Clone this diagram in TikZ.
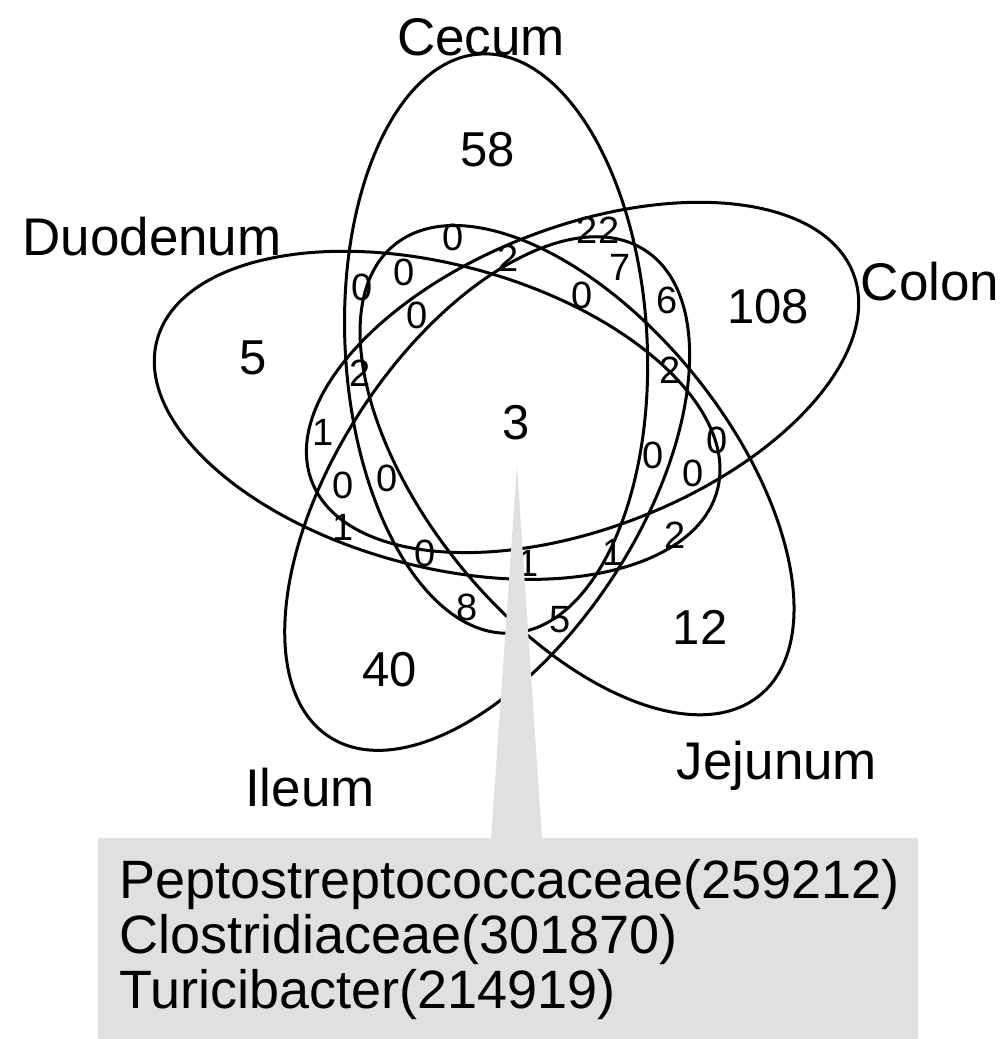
\documentclass[tikz,border=0pt]{standalone}
\usepackage{fontspec}
\setmainfont{Liberation Sans}
\definecolor{boxgray}{RGB}{224,224,224}
\begin{document}
\begin{tikzpicture}[x=1pt,y=1pt,
  venn/.style={line width=3pt},
  lab/.style={font=\fontsize{53}{60}\selectfont, anchor=base, inner sep=0pt},
  big/.style={font=\fontsize{49}{56}\selectfont, inner sep=0pt},
  sm/.style={font=\fontsize{38}{42}\selectfont, inner sep=0pt},
  boxtxt/.style={font=\fontsize{54}{57}\selectfont, anchor=base west, inner sep=0pt},
]
\useasboundingbox (0,0) rectangle (1006,-1039);
% five ellipses, rotations of one another about the centre
\foreach \k in {0,1,2,3,4}{
  \begin{scope}[shift={(516,-420)}, rotate=-72*\k]
    \draw[venn, rotate around={93:(104.6:79)}] (104.6:79) ellipse [x radius=290, y radius=151];
  \end{scope}
}
% set labels
\node[lab] (lCecum) at (481,-55) {Cecum};
\node[lab] (lDuo) at (152,-255) {Duodenum};
\node[lab] (lColon) at (930,-300) {Colon};
\node[lab] (lIleum) at (310,-806) {Ileum};
\node[lab] (lJej) at (777,-779) {Jejunum};
% large counts
\node[big] (n58) at (488,-150) {58};
\node[big] (n108) at (768,-307) {108};
\node[big] (n5) at (253,-358) {5};
\node[big] (n3) at (516,-423) {3};
\node[big] (n40) at (390,-670) {40};
\node[big] (n12) at (700,-627) {12};
% small counts
\node[sm] (a1) at (453,-237) {0};
\node[sm] (a2) at (598,-230) {22};
\node[sm] (a3) at (508,-258) {2};
\node[sm] (a4) at (620,-267) {7};
\node[sm] (a5) at (362,-287) {0};
\node[sm] (a6) at (404,-272) {0};
\node[sm] (a7) at (417,-315) {0};
\node[sm] (a8) at (582,-295) {0};
\node[sm] (a9) at (667,-300) {6};
\node[sm] (a10) at (360,-373) {2};
\node[sm] (a11) at (670,-370) {2};
\node[sm] (a12) at (323,-432) {1};
\node[sm] (a13) at (653,-455) {0};
\node[sm] (a14) at (717,-440) {0};
\node[sm] (a15) at (343,-485) {0};
\node[sm] (a16) at (387,-478) {0};
\node[sm] (a17) at (693,-473) {0};
\node[sm] (a18) at (343,-527) {1};
\node[sm] (a19) at (425,-553) {0};
\node[sm] (a20) at (528,-563) {1};
\node[sm] (a21) at (613,-552) {1};
\node[sm] (a22) at (675,-535) {2};
\node[sm] (a23) at (467,-607) {8};
\node[sm] (a24) at (560,-620) {5};
% call-out wedge and box
\coordinate (apex) at (517,-466);
\coordinate (bl) at (491,-839);
\coordinate (br) at (542,-839);
\fill[boxgray] (apex) -- (br) -- (bl) -- cycle;
\fill[boxgray] (98,-838) rectangle (918,-1039);
\node[boxtxt] (t1) at (119,-898) {Peptostreptococcaceae(259212)};
\node[boxtxt] (t2) at (119,-953) {Clostridiaceae(301870)};
\node[boxtxt] (t3) at (119,-1008) {Turicibacter(214919)};
\end{tikzpicture}
\end{document}
